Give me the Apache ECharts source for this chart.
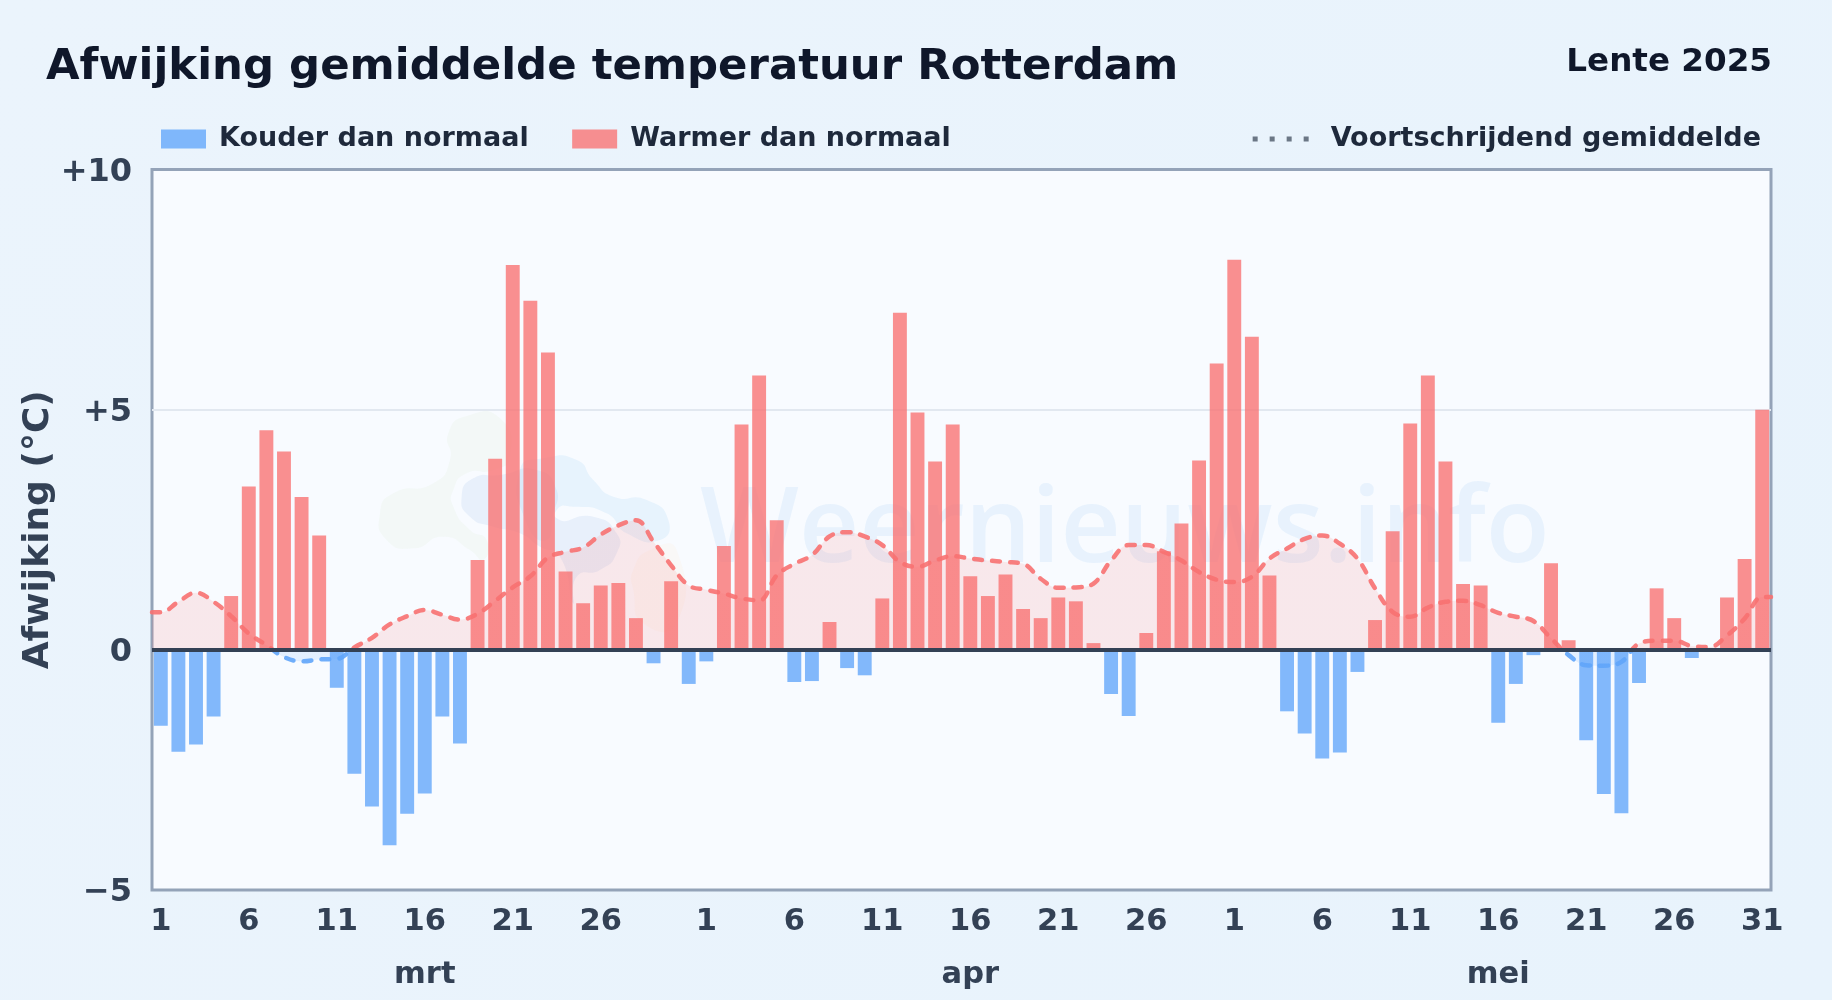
<!DOCTYPE html>
<html><head><meta charset="utf-8">
<style>html,body{margin:0;padding:0;background:#e8f3fc}#c{width:1832px;height:1000px}</style>
<script src="https://cdn.jsdelivr.net/npm/echarts@6/dist/echarts.min.js"></script>
</head><body><div id="c"></div>
<script>
const marchDays = 31, aprilDays = 30, mayDays = 31;
const months = ['mrt','apr','mei'];
const yTickLabels = {'10':'+10','5':'+5','0':'0','-5':'\u22125'};
const titleText = 'Afwijking gemiddelde temperatuur Rotterdam';
const seasonText = 'Lente 2025';
const coldName = 'Kouder dan normaal';
const warmName = 'Warmer dan normaal';
const avgName = 'Voortschrijdend gemiddelde';
const watermarkText = 'Weernieuws.info';
const deviationMar = [-1.58,-2.12,-1.97,-1.39,1.12,3.40,4.57,4.13,3.18,2.38,-0.79,-2.58,-3.26,-4.07,-3.41,-2.99,-1.39,-1.95,1.87,3.98,8.01,7.27,6.19,1.63,0.97,1.34,1.39,0.66,-0.28,1.43,-0.71];
const deviationApr = [-0.24,2.16,4.69,5.71,2.70,-0.67,-0.65,0.58,-0.38,-0.53,1.07,7.02,4.94,3.92,4.69,1.53,1.12,1.57,0.85,0.66,1.09,1.01,0.14,-0.92,-1.38,0.35,2.05,2.63,3.94,5.96];
const deviationMay = [8.12,6.52,1.55,-1.28,-1.74,-2.26,-2.14,-0.46,0.62,2.47,4.71,5.71,3.92,1.37,1.34,-1.52,-0.71,-0.11,1.80,0.20,-1.88,-3.00,-3.40,-0.69,1.28,0.66,-0.17,0.0,1.09,1.89,5.00];
const rollingMar = [0.78,1.00,1.19,1.00,0.70,0.34,0.10,-0.15,-0.24,-0.20,-0.19,0.05,0.25,0.53,0.70,0.83,0.73,0.63,0.75,1.02,1.30,1.53,1.92,2.04,2.13,2.40,2.59,2.70,2.25,1.76,1.34];
const rollingApr = [1.25,1.17,1.07,1.03,1.55,1.79,1.97,2.36,2.45,2.36,2.18,1.83,1.73,1.86,1.95,1.90,1.86,1.83,1.79,1.48,1.29,1.30,1.38,1.86,2.18,2.18,2.04,1.86,1.62,1.46];
const rollingMay = [1.41,1.52,1.90,2.11,2.31,2.38,2.21,1.90,1.28,0.79,0.69,0.88,1.00,1.02,0.93,0.77,0.69,0.60,0.24,-0.11,-0.32,-0.33,-0.25,0.13,0.19,0.19,0.08,0.06,0.30,0.65,1.10];

const labelStep = 5, monthMid = 16;
function days(n){const a=[];for(let i=1;i<=n;i++)a.push(i);return a;}
const dayNumbers = days(marchDays).concat(days(aprilDays),days(mayDays));
const categories = dayNumbers.map((d,i)=>i+'|'+d);
const deviation = deviationMar.concat(deviationApr,deviationMay);
const rolling = rollingMar.concat(rollingApr,rollingMay);
const colder = deviation.map(v=>v<0?v:null);
const warmer = deviation.map(v=>v>=0?v:null);
const monthOf = i=> i<marchDays?0:(i<marchDays+aprilDays?1:2);
const lastIndex = dayNumbers.length-1;
// the rolling line runs from plot edge to plot edge: each day sits mid-slot on a hidden day axis
const rollingPoints = [[0,rolling[0]]].concat(rolling.map((v,i)=>[i+0.5,v]),[[dayNumbers.length,rolling[lastIndex]]]);

const ink='#334155', legendInk='#1e293b', titleInk='#0f172a';
const ff='"DejaVu Sans"';
// faint logo behind the watermark text (page pixels)
function logo(points,fill){
  return {type:'polygon',z:1,silent:true,shape:{points:points.map(p=>[360+p[0]/3,390+p[1]/3]),smooth:0.6},style:{fill:fill}};
}
const chart=echarts.init(document.getElementById('c'),null,{renderer:'canvas'});
chart.setOption({
  animation:false,
  backgroundColor:{type:'linear',x:0,y:0,x2:1,y2:1,colorStops:[{offset:0,color:'#ebf4fc'},{offset:1,color:'#e8f3fc'}]},
  textStyle:{fontFamily:ff},
  title:[
    {text:titleText,left:41,top:41,textStyle:{fontFamily:ff,fontSize:43.4,fontWeight:'bold',color:titleInk}},
    {text:seasonText,right:55,top:41,textStyle:{fontFamily:ff,fontSize:32.6,fontWeight:'bold',color:titleInk}}
  ],
  legend:[
    {data:[{name:coldName,icon:'rect'},{name:warmName,icon:'rect'}],left:156,top:120.5,itemWidth:45,itemHeight:19,itemGap:43.5,
     textStyle:{fontFamily:ff,fontSize:27,fontWeight:'bold',color:legendInk,padding:[0,0,0,8]}},
    {data:[{name:avgName,itemStyle:{opacity:0},lineStyle:{color:'#6b7785',width:5,type:[5,12],cap:'butt',opacity:1}}],right:66,top:120.5,itemWidth:56,itemHeight:19,
     textStyle:{fontFamily:ff,fontSize:27,fontWeight:'bold',color:legendInk,padding:[0,0,0,17]}}
  ],
  grid:{left:152,right:61,top:169.5,bottom:110,show:true,backgroundColor:'#f8fbff',borderColor:'#94a3b8',borderWidth:3},
  xAxis:[
    {type:'category',data:categories,position:'bottom',axisLine:{show:false,onZero:false},axisTick:{show:false},splitLine:{show:false},
     axisLabel:{interval:(i)=>(dayNumbers[i]-1)%labelStep===0&&(dayNumbers[i]!==31||i===lastIndex),formatter:(v)=>v.split('|')[1],fontFamily:ff,fontSize:30.5,fontWeight:'bold',color:ink,margin:16.5}},
    {type:'category',data:categories,position:'bottom',offset:52,axisLine:{show:false,onZero:false},axisTick:{show:false},splitLine:{show:false},
     axisLabel:{interval:(i)=>dayNumbers[i]===monthMid,formatter:(v)=>{const i=+v.split('|')[0];return months[monthOf(i)];},fontFamily:ff,fontSize:30.5,fontWeight:'bold',color:ink,margin:17.5}},
    {type:'value',min:0,max:dayNumbers.length,show:false}
  ],
  yAxis:{type:'value',min:-5,max:10,interval:5,name:'Afwijking (\u00B0C)',nameLocation:'middle',nameGap:95,nameMoveOverlap:false,
    nameTextStyle:{fontFamily:ff,fontSize:36,fontWeight:'bold',color:ink},
    axisLine:{show:false},axisTick:{show:false},
    splitLine:{show:true,showMinLine:false,showMaxLine:false,lineStyle:{color:'#e2e8f0',width:2}},
    axisLabel:{formatter:(v)=>'{t|'+yTickLabels[String(v)]+'}',margin:20,
      rich:{t:{fontFamily:ff,fontSize:32,fontWeight:'bold',color:ink,padding:[6,0,0,0]}}}},
  visualMap:{show:false,type:'piecewise',seriesIndex:2,dimension:1,pieces:[{gte:-5,lt:0,color:'#60a5fa'},{gte:0,lte:10,color:'#f87171'}]},
  series:[
    {name:coldName,type:'bar',stack:'d',data:colder,barCategoryGap:'21%',itemStyle:{color:'#60a5fa',opacity:0.78},z:3},
    {name:warmName,type:'bar',stack:'d',data:warmer,barCategoryGap:'21%',itemStyle:{color:'#f87171',opacity:0.78},z:3,
     markLine:{silent:true,symbol:'none',label:{show:false},lineStyle:{color:'#334155',width:4,type:'solid'},data:[{yAxis:0}],z:6}},
    {name:avgName,type:'line',xAxisIndex:2,data:rollingPoints,smooth:0.4,showSymbol:false,symbol:'none',z:4,
     lineStyle:{width:4.5,type:[8,10],cap:'round',opacity:0.9},areaStyle:{opacity:0.14}}
  ],
  graphic:[
    logo([[60,370],[100,310],[220,280],[270,210],[265,130],[320,78],[420,85],[450,200],[400,240],[320,250],[280,300],[280,350],[330,420],[380,450],[370,510],[330,480],[250,440],[160,475],[80,450]],'rgba(214,238,200,0.15)'),
    logo([[480,240],[550,205],[650,210],[700,270],[760,320],[860,330],[925,390],[900,450],[800,430],[740,370],[640,350],[590,360],[560,450],[500,400]],'rgba(186,222,248,0.28)'),
    logo([[305,320],[340,265],[420,255],[530,240],[590,300],[590,385],[700,380],[770,430],[770,490],[720,540],[650,560],[640,640],[600,500],[540,470],[480,430],[400,410],[330,380]],'rgba(170,200,235,0.2)'),
    logo([[820,540],[870,480],[950,480],[950,700],[850,700],[820,600]],'rgba(253,235,220,0.22)'),
    {type:'text',z:1,left:700,top:480,silent:true,style:{text:watermarkText,font:'600 104.7px "Open Sans"',fill:'rgba(147,197,240,0.16)'}}
  ]
});
</script></body></html>
